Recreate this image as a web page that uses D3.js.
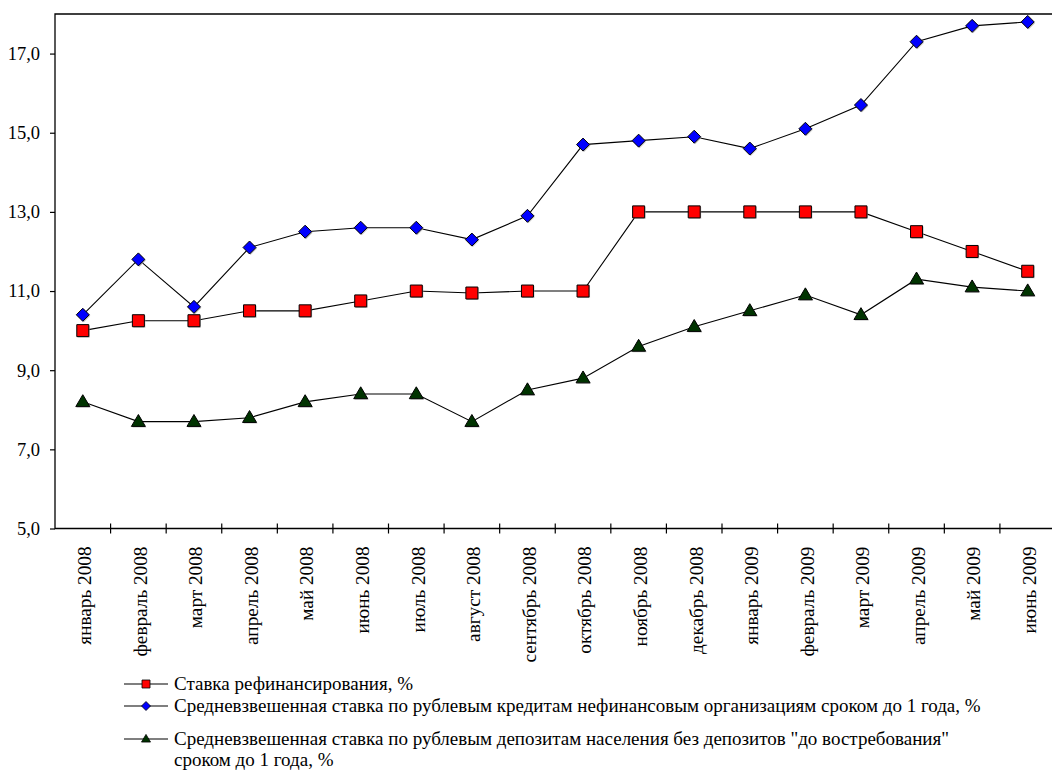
<!DOCTYPE html>
<html>
<head>
<meta charset="utf-8">
<script src="https://cdn.jsdelivr.net/npm/d3@7"></script>
<style>
  html, body { margin: 0; padding: 0; background: #fff; }
  svg { display: block; }
</style>
</head>
<body>
<svg id="chart" width="1052" height="770"></svg>
<script>
// Месяцы
const months = [
  "январь 2008", "февраль 2008", "март 2008", "апрель 2008", "май 2008", "июнь 2008",
  "июль 2008", "август 2008", "сентябрь 2008", "октябрь 2008", "ноябрь 2008", "декабрь 2008",
  "январь 2009", "февраль 2009", "март 2009", "апрель 2009", "май 2009", "июнь 2009"
];

// Ставка рефинансирования, %
const refinRate = [10.0, 10.25, 10.25, 10.5, 10.5, 10.75, 11.0, 10.95, 11.0, 11.0, 13.0, 13.0,
                   13.0, 13.0, 13.0, 12.5, 12.0, 11.5];

// Средневзвешенная ставка по кредитам нефинансовым организациям, %
const loanRate = [10.4, 11.8, 10.6, 12.1, 12.5, 12.6, 12.6, 12.3, 12.9, 14.7, 14.8, 14.9,
                  14.6, 15.1, 15.7, 17.3, 17.7, 17.8];

// Средневзвешенная ставка по депозитам населения, %
const depositRate = [8.2, 7.7, 7.7, 7.8, 8.2, 8.4, 8.4, 7.7, 8.5, 8.8, 9.6, 10.1,
                     10.5, 10.9, 10.4, 11.3, 11.1, 11.0];

const yTicks = [5, 7, 9, 11, 13, 15, 17];
const yDomain = [5, 18];

const legendLabels = [
  ["Ставка рефинансирования, %"],
  ["Средневзвешенная ставка по рублевым кредитам нефинансовым организациям сроком до 1 года, %"],
  ["Средневзвешенная ставка по рублевым депозитам населения без депозитов \"до востребования\"",
   "сроком до 1 года, %"]
];

const FONT = "'Liberation Serif'";

const svg = d3.select("#chart");
const plot = { left: 55, top: 14, right: 1055.5, bottom: 528.5 };

const x = d3.scaleBand().domain(months).range([plot.left, plot.right]).paddingInner(0).paddingOuter(0);
const y = d3.scaleLinear().domain(yDomain).range([plot.bottom, plot.top]);
const cx = m => x(m) + x.bandwidth() / 2;

// Рамка области построения
svg.append("path")
  .attr("d", `M${plot.right + 2},${plot.top}H${plot.left}V${plot.bottom}H${plot.right + 2}`)
  .attr("fill", "none").attr("stroke", "#000").attr("stroke-width", 1.3);

// Ось Y
const yAxis = d3.axisLeft(y).tickValues(yTicks).tickSize(5).tickPadding(10)
  .tickFormat(d => d3.format(".1f")(d).replace(".", ","));
const gy = svg.append("g").attr("transform", `translate(${plot.left},0)`).call(yAxis);
gy.select(".domain").remove();
gy.selectAll(".tick line").attr("stroke", "#000").attr("stroke-width", 1.2);
gy.selectAll(".tick text").style("font-family", FONT).style("font-size", "18.5px").attr("fill", "#000");

// Ось X: деления на границах категорий
const bounds = months.slice(1).map(m => x(m));
svg.append("g").selectAll("line").data(bounds).join("line")
  .attr("x1", d => d).attr("x2", d => d)
  .attr("y1", plot.bottom - 5).attr("y2", plot.bottom + 5)
  .attr("stroke", "#000").attr("stroke-width", 1.2);

svg.append("g").selectAll("text").data(months).join("text")
  .attr("transform", d => `translate(${cx(d) + 2},${plot.bottom + 18}) rotate(-90) scale(1.07,1)`)
  .attr("text-anchor", "end")
  .attr("dy", "0.35em")
  .style("font-family", FONT).style("font-size", "18px")
  .attr("fill", "#000")
  .text(d => d);

// Серии
const series = [
  { values: refinRate, shape: "square", fill: "#ff0000" },
  { values: loanRate, shape: "diamond", fill: "#0000ff" },
  { values: depositRate, shape: "triangle", fill: "#003300" }
];

function markerPath(shape, s) {
  if (shape === "square") return `M${-s/2},${-s/2}h${s}v${s}h${-s}Z`;
  if (shape === "diamond") return `M0,${-s/2}L${s/2},0L0,${s/2}L${-s/2},0Z`;
  const h = s * 0.85;
  return `M0,${-h*0.6}L${s/2},${h*0.4}L${-s/2},${h*0.4}Z`;
}

const line = d3.line().x((d, i) => cx(months[i])).y(d => y(d));

series.forEach(sr => {
  svg.append("path").datum(sr.values)
    .attr("d", line)
    .attr("fill", "none").attr("stroke", "#000").attr("stroke-width", 1.1);
});

series.forEach(sr => {
  const size = sr.shape === "square" ? 12 : sr.shape === "diamond" ? 13 : 14;
  const g = svg.append("g");
  g.selectAll("path.shadow").data(sr.values).join("path").attr("class", "shadow")
    .attr("transform", (d, i) => `translate(${cx(months[i]) + 1},${y(d) + 1})`)
    .attr("d", markerPath(sr.shape, size))
    .attr("fill", "#aaa").attr("opacity", 0.7);
  g.selectAll("path.mark").data(sr.values).join("path").attr("class", "mark")
    .attr("transform", (d, i) => `translate(${cx(months[i])},${y(d)})`)
    .attr("d", markerPath(sr.shape, size))
    .attr("fill", sr.fill).attr("stroke", "#000").attr("stroke-width", 1);
});

// Легенда
const legendRows = [684, 706, 739];
const legend = svg.append("g");
series.forEach((sr, k) => {
  const ly = legendRows[k];
  legend.append("line")
    .attr("x1", 124).attr("x2", 168).attr("y1", ly).attr("y2", ly)
    .attr("stroke", "#000").attr("stroke-width", 1.1);
  legend.append("path")
    .attr("transform", `translate(146,${ly})`)
    .attr("d", markerPath(sr.shape, sr.shape === "square" ? 8 : 9))
    .attr("fill", sr.fill).attr("stroke", "#000").attr("stroke-width", 0.8);
  legendLabels[k].forEach((t, j) => {
    legend.append("text")
      .attr("x", 174).attr("y", ly + j * 21)
      .attr("dy", "0.33em")
      .style("font-family", FONT).style("font-size", "19px")
      .attr("fill", "#000")
      .text(t);
  });
});
</script>
</body>
</html>
